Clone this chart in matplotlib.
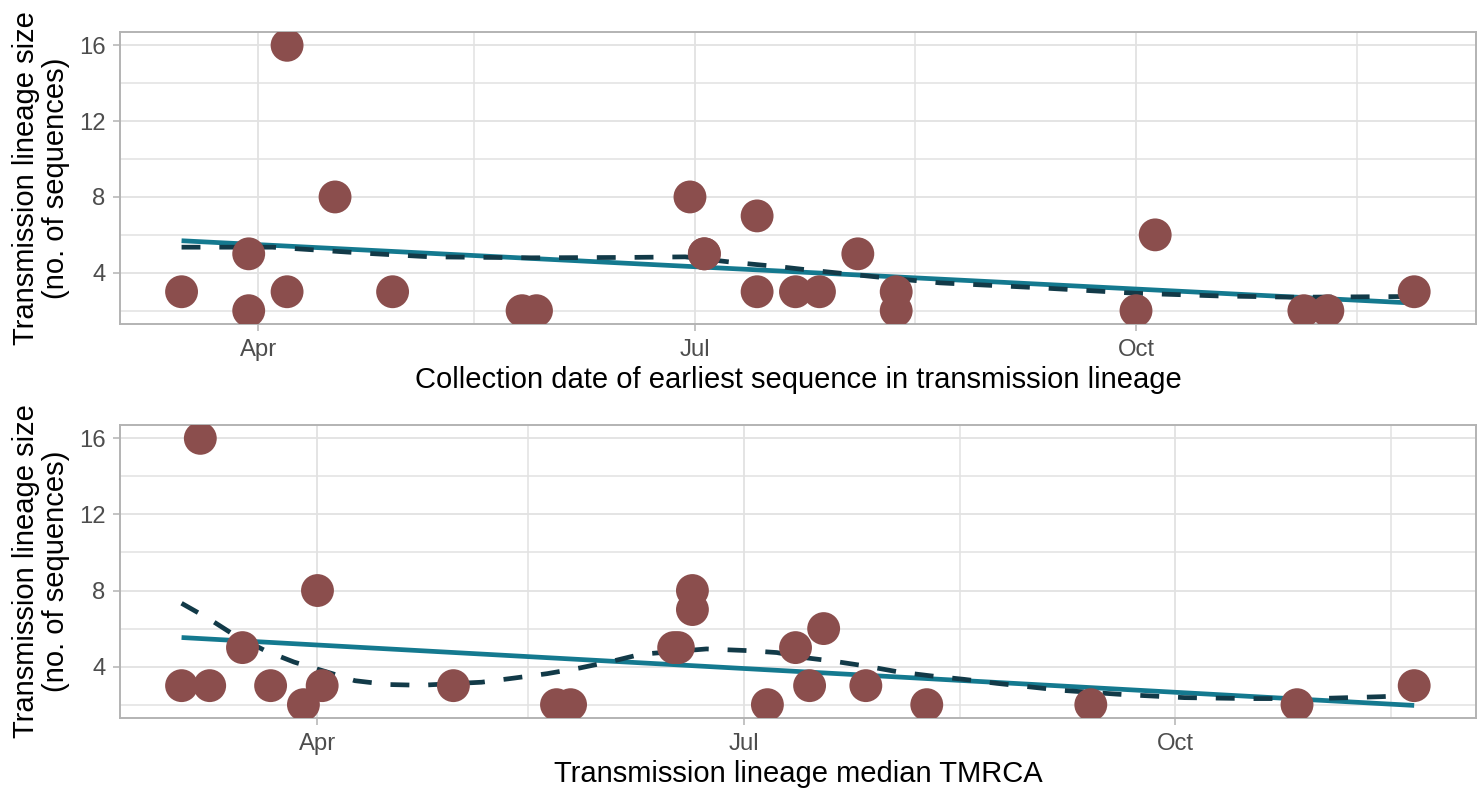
import numpy as np
import pandas as pd
import matplotlib
matplotlib.use('Agg')
import matplotlib.pyplot as plt
import matplotlib.dates as mdates

plt.rcParams['font.family'] = ['Liberation Sans', 'DejaVu Sans']

# -----------------------------
# Data
# -----------------------------
earliest_dates = [
    '2020-03-16', '2020-03-30', '2020-03-30', '2020-04-07', '2020-04-07',
    '2020-04-17', '2020-04-29', '2020-05-26', '2020-05-29', '2020-06-30',
    '2020-07-03', '2020-07-03', '2020-07-14', '2020-07-14', '2020-07-22',
    '2020-07-27', '2020-08-04', '2020-08-12', '2020-08-12', '2020-10-01',
    '2020-10-05', '2020-11-05', '2020-11-10', '2020-11-28',
]
earliest_size = [
    3, 5, 2, 16, 3,
    8, 3, 2, 2, 8,
    5, 5, 7, 3, 3,
    3, 5, 3, 2, 2,
    6, 2, 2, 3,
]

tmrca_dates = [
    '2020-03-03', '2020-03-07', '2020-03-09', '2020-03-16', '2020-03-22',
    '2020-03-29', '2020-04-01', '2020-04-02', '2020-04-30', '2020-05-22',
    '2020-05-25', '2020-06-16', '2020-06-17', '2020-06-20', '2020-06-20',
    '2020-07-06', '2020-07-12', '2020-07-15', '2020-07-18', '2020-07-27',
    '2020-08-09', '2020-09-13', '2020-10-27', '2020-11-21',
]
tmrca_size = [
    3, 16, 3, 5, 3,
    2, 8, 3, 3, 2,
    2, 5, 5, 8, 7,
    2, 5, 3, 6, 3,
    2, 2, 2, 3,
]

# linear fit (solid) end points
earliest_lm_dates = ['2020-03-16', '2020-11-28']
earliest_lm_vals = [5.69, 2.40]
tmrca_lm_dates = ['2020-03-03', '2020-11-21']
tmrca_lm_vals = [5.53, 1.96]

# loess smooth (dashed)
earliest_lo_dates = [
    '2020-03-16', '2020-04-04', '2020-04-24', '2020-05-07', '2020-05-28',
    '2020-06-17', '2020-06-29', '2020-07-09', '2020-07-19', '2020-07-25',
    '2020-08-08', '2020-08-21', '2020-09-10', '2020-10-01', '2020-10-18',
    '2020-11-03', '2020-11-28',
]
earliest_lo_vals = [
    5.35, 5.35, 5.02, 4.84, 4.79,
    4.81, 4.84, 4.55, 4.31, 4.14,
    3.78, 3.47, 3.22, 2.92, 2.78,
    2.71, 2.75,
]
tmrca_lo_dates = [
    '2020-03-03', '2020-03-09', '2020-03-14', '2020-03-21', '2020-03-27',
    '2020-04-03', '2020-04-09', '2020-04-16', '2020-04-23', '2020-05-06',
    '2020-05-13', '2020-05-20', '2020-05-27', '2020-06-03', '2020-06-09',
    '2020-06-23', '2020-07-02', '2020-07-08', '2020-07-14', '2020-07-20',
    '2020-07-27', '2020-08-03', '2020-08-10', '2020-08-17', '2020-08-24',
    '2020-09-07', '2020-09-20', '2020-10-03', '2020-10-17', '2020-10-31',
    '2020-11-14', '2020-11-21',
]
tmrca_lo_vals = [
    7.33, 6.49, 5.70, 4.82, 4.24,
    3.72, 3.26, 3.06, 3.02, 3.18,
    3.40, 3.63, 3.93, 4.29, 4.65,
    4.93, 4.84, 4.74, 4.47, 4.29,
    4.03, 3.72, 3.51, 3.33, 3.12,
    2.75, 2.53, 2.37, 2.32, 2.32,
    2.42, 2.50,
]

x_breaks = ['2020-04-01', '2020-07-01', '2020-10-01']
x_minor = ['2020-05-16', '2020-08-16', '2020-11-16']
x_labels = ['Apr', 'Jul', 'Oct']
y_breaks = [4, 8, 12, 16]
y_minor = [2, 6, 10, 14]

point_col = '#8B4E4D'
lm_col = '#14798F'
loess_col = '#123A48'
grid_col = '#E2E2E2'
border_col = '#B3B3B3'


def to_num(d):
    return mdates.date2num(pd.to_datetime(d))


def panel(ax, dates, sizes, lm_d, lm_v, lo_d, lo_v, xlabel):
    x = to_num(dates)
    y = np.array(sizes, dtype=float)

    ax.plot(to_num(lm_d), lm_v, color=lm_col, lw=3.4, solid_capstyle='butt', zorder=3)
    ax.plot(to_num(lo_d), lo_v, color=loess_col, lw=3.4, dashes=(4, 4),
            dash_joinstyle='round', zorder=3)
    ax.scatter(x, y, s=560, color=point_col, edgecolors='none', zorder=4)

    rng = x.max() - x.min()
    ax.set_xlim(x.min() - 0.05 * rng, x.max() + 0.05 * rng)
    ax.set_ylim(2 - 0.05 * 14, 16 + 0.05 * 14)

    ax.set_xticks(to_num(x_breaks))
    ax.set_xticklabels(x_labels)
    ax.set_xticks(to_num(x_minor), minor=True)
    ax.set_yticks(y_breaks)
    ax.set_yticks(y_minor, minor=True)

    ax.grid(True, which='major', color=grid_col, lw=1.3, zorder=0)
    ax.grid(True, which='minor', color=grid_col, lw=1.1, zorder=0)
    ax.set_axisbelow(True)
    for s in ax.spines.values():
        s.set_color(border_col)
        s.set_linewidth(1.4)
    ax.tick_params(which='major', color=border_col, length=5, width=1.1,
                   labelsize=17.2, labelcolor='#4D4D4D', pad=5.5)
    ax.tick_params(which='minor', length=0)
    ax.set_xlabel(xlabel, fontsize=21, color='black', labelpad=4)
    ax.set_ylabel('Transmission lineage size\n(no. of sequences)', fontsize=21,
                  color='black', labelpad=6, linespacing=1.1)


fig = plt.figure(figsize=(14.77, 7.89), dpi=100)
ax1 = fig.add_axes([0.0812, 0.5894, 0.9180, 0.3700])
ax2 = fig.add_axes([0.0812, 0.0900, 0.9180, 0.3713])

panel(ax1, earliest_dates, earliest_size, earliest_lm_dates, earliest_lm_vals,
      earliest_lo_dates, earliest_lo_vals,
      'Collection date of earliest sequence in transmission lineage')
panel(ax2, tmrca_dates, tmrca_size, tmrca_lm_dates, tmrca_lm_vals,
      tmrca_lo_dates, tmrca_lo_vals, 'Transmission lineage median TMRCA')

fig.savefig('out.png', dpi=100)
